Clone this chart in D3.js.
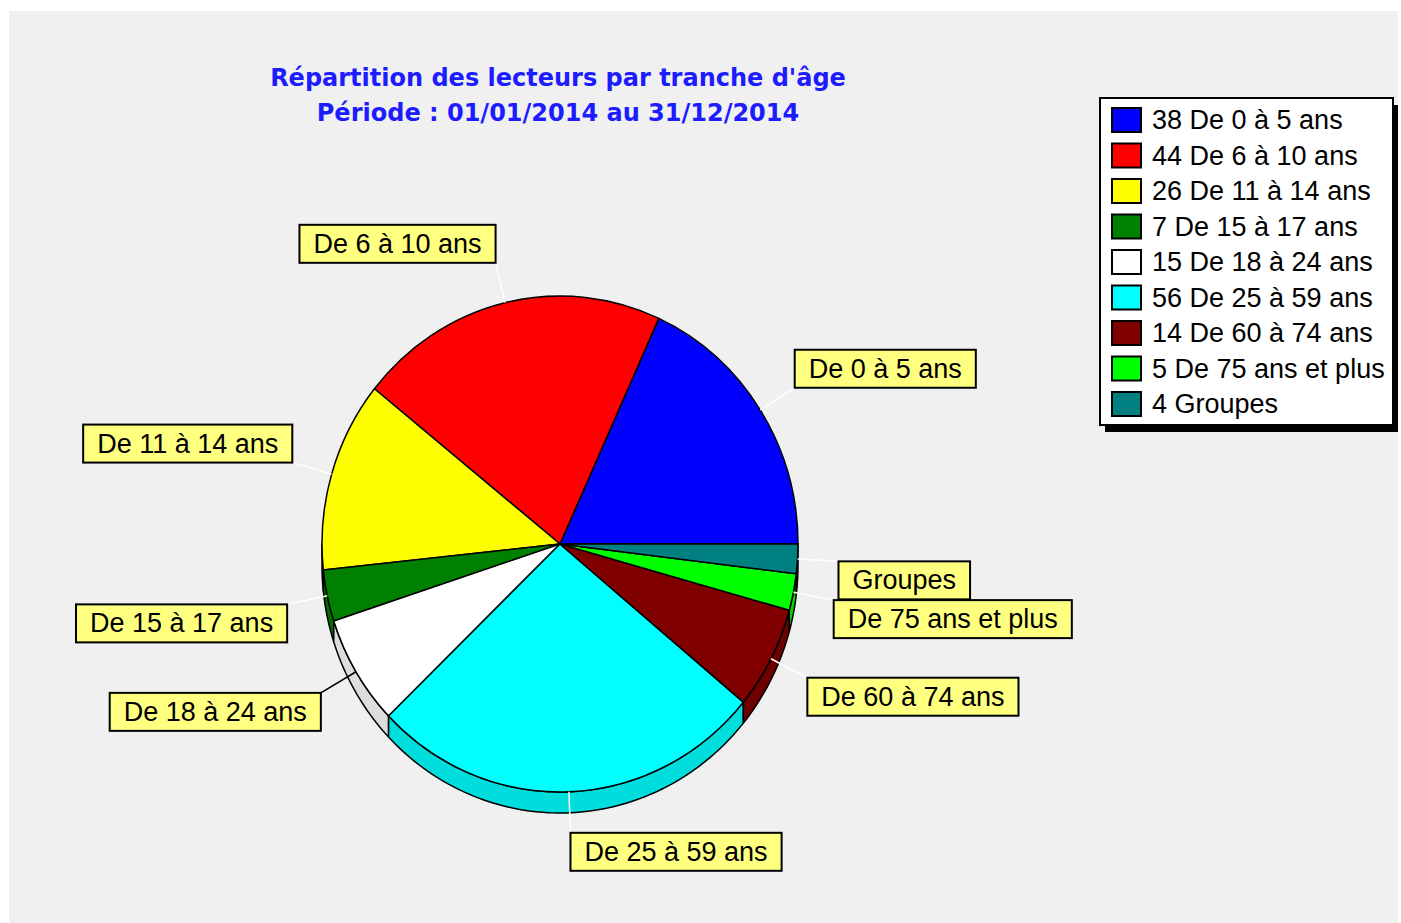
<!DOCTYPE html>
<html>
<head>
<meta charset="utf-8">
<script src="https://cdn.jsdelivr.net/npm/d3@7"></script>
<style>
  body { margin: 0; background: #ffffff; }
  svg { display: block; }
  text { font-family: "Liberation Sans", Arial, sans-serif; }
</style>
</head>
<body>
<div id="chart"></div>
<script>
// chart values
const categories = ["De 0 à 5 ans", "De 6 à 10 ans", "De 11 à 14 ans", "De 15 à 17 ans",
    "De 18 à 24 ans", "De 25 à 59 ans", "De 60 à 74 ans", "De 75 ans et plus", "Groupes"];
const values = [38, 44, 26, 7, 15, 56, 14, 5, 4];
const colors = ["#0000ff", "#ff0000", "#ffff00", "#008000", "#ffffff",
    "#00ffff", "#800000", "#00ff00", "#008080"];
const titleLines = ["Répartition des lecteurs par tranche d'âge", "Période : 01/01/2014 au 31/12/2014"];

const width = 1401, height = 923;
const cx = 560, cy = 544, rx = 238, ry = 248, depth = 21;

const svg = d3.select("#chart").append("svg")
    .attr("width", width)
    .attr("height", height);

// grey panel
svg.append("rect")
    .attr("x", 9).attr("y", 11)
    .attr("width", 1389).attr("height", 912)
    .attr("fill", "#f0f0f0");

// title
svg.selectAll(".title")
    .data(titleLines)
    .enter()
    .append("text")
        .attr("class", "title")
        .attr("x", 558)
        .attr("y", function(d, i) { return 86 + i * 35; })
        .attr("text-anchor", "middle")
        .style("font-family", "'DejaVu Sans', sans-serif")
        .attr("font-size", "24px")
        .attr("font-weight", "bold")
        .attr("fill", "#1c1cff")
        .text(function(d) { return d; });

// pie angles: counterclockwise from east (math angle)
const data = categories.map(function(c, i) { return {name: c, value: values[i], color: colors[i]}; });
const slices = d3.pie().sort(null).value(function(d) { return d.value; })(data);

function pt(phi, dy) {
    return [cx + rx * Math.cos(phi), cy - ry * Math.sin(phi) + (dy || 0)];
}

// side walls, only the lower half (pi .. 2pi) shows
const lineGen = d3.line();
const sides = svg.append("g");
slices.forEach(function(s) {
    const a0 = Math.max(s.startAngle, Math.PI);
    const a1 = Math.min(s.endAngle, 2 * Math.PI);
    if (a1 <= a0) return;
    const n = Math.max(2, Math.ceil((a1 - a0) / 0.02));
    const top = d3.range(n + 1).map(function(k) { return pt(a0 + (a1 - a0) * k / n, 0); });
    const bottom = top.slice().reverse().map(function(p) { return [p[0], p[1] + depth]; });
    sides.append("path")
        .attr("d", lineGen(top.concat(bottom)) + "Z")
        .attr("fill", d3.color(s.data.color).darker(0.4))
        .attr("stroke", "#000")
        .attr("stroke-width", 1.5)
        .attr("stroke-linejoin", "round");
});

// top faces: d3.arc on a circle of radius ry, squeezed horizontally
const arc = d3.arc()
    .innerRadius(0)
    .outerRadius(ry)
    .startAngle(function(d) { return Math.PI / 2 - d.startAngle; })
    .endAngle(function(d) { return Math.PI / 2 - d.endAngle; });

svg.append("g")
    .attr("transform", `translate(${cx},${cy}) scale(${rx / ry},1)`)
    .selectAll("path")
    .data(slices)
    .enter()
    .append("path")
        .attr("d", arc)
        .attr("fill", function(d) { return d.data.color; })
        .attr("stroke", "#000")
        .attr("stroke-width", 1.5)
        .attr("vector-effect", "non-scaling-stroke")
        .attr("stroke-linejoin", "round");

// labels with leader lines
const off = 41;
const labels = svg.append("g");
slices.forEach(function(s) {
    const mid = (s.startAngle + s.endAngle) / 2;
    const edge = pt(mid, 0);
    const ax = cx + (rx + off) * Math.cos(mid);
    const ay = cy - (ry + off) * Math.sin(mid);

    labels.append("line")
        .attr("x1", edge[0]).attr("y1", edge[1])
        .attr("x2", ax).attr("y2", ay)
        .attr("stroke", s.data.color === "#ffffff" ? "#000" : "#fff")
        .attr("stroke-width", 1.5);

    const g = labels.append("g");
    const t = g.append("text")
        .attr("font-size", "27px")
        .attr("fill", "#000")
        .text(s.data.name);
    const tw = t.node().getComputedTextLength();
    const bw = tw + 28, bh = 38;
    const left = Math.cos(mid) >= 0 ? ax : ax - bw;
    const topY = Math.sin(mid) >= 0 ? ay - bh : ay;
    g.insert("rect", "text")
        .attr("x", left).attr("y", topY)
        .attr("width", bw).attr("height", bh)
        .attr("fill", "#ffff80")
        .attr("stroke", "#000")
        .attr("stroke-width", 2);
    t.attr("x", left + 14).attr("y", topY + bh / 2 + 9);
});

// legend
const lx = 1100, ly = 98, lw = 293, lh = 327, rowH = 35.5;
svg.append("rect")
    .attr("x", lx + 5).attr("y", ly + 7)
    .attr("width", lw).attr("height", lh)
    .attr("fill", "#000");
svg.append("rect")
    .attr("x", lx).attr("y", ly)
    .attr("width", lw).attr("height", lh)
    .attr("fill", "#fff")
    .attr("stroke", "#000")
    .attr("stroke-width", 2);

const items = svg.selectAll(".legendItem")
    .data(data)
    .enter()
    .append("g")
        .attr("class", "legendItem")
        .attr("transform", function(d, i) { return `translate(${lx + 12},${ly + 10 + i * rowH})`; });

items.append("rect")
    .attr("width", 29).attr("height", 24)
    .attr("fill", function(d) { return d.color; })
    .attr("stroke", "#000")
    .attr("stroke-width", 2);

items.append("text")
    .attr("x", 40)
    .attr("y", 21)
    .attr("font-size", "27px")
    .attr("fill", "#000")
    .text(function(d) { return d.value + " " + d.name; });
</script>
</body>
</html>
